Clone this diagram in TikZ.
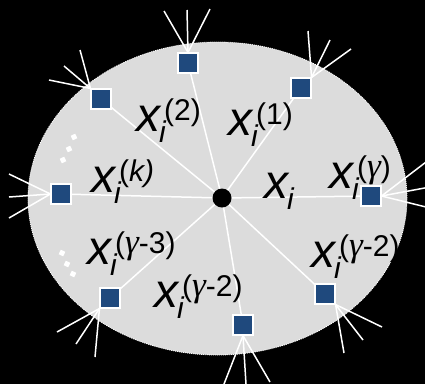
\documentclass[tikz,border=0pt]{standalone}
\usepackage{fontspec}
\setmainfont{Liberation Sans}
\newfontfamily\gfont{Liberation Serif}
\usetikzlibrary{backgrounds}
\definecolor{sqblue}{HTML}{1F497D}
\definecolor{ellgray}{HTML}{DCDCDC}
\newcommand{\labsize}{\fontsize{48}{48}\selectfont}
\newcommand{\supsize}{\fontsize{30}{30}\selectfont}
\newcommand{\mylab}[1]{\labsize\itshape x\rlap{\kern-1pt\raisebox{-11pt}{\supsize\itshape i}}\kern4pt\raisebox{11pt}{\supsize\upshape (#1)}}
\newcommand{\gam}{{\gfont\itshape\fontsize{35}{35}\selectfont γ}}
\begin{document}
\begin{tikzpicture}[x=1pt,y=-1pt,
  sq/.style={draw=white,line width=1.6pt,fill=sqblue,minimum size=19.5pt,inner sep=0pt},
  spoke/.style={white,line width=1.5pt},
  fan/.style={white,line width=1.5pt},
  dotsq/.style={fill=white,minimum size=5pt,inner sep=0pt},
  lab/.style={anchor=base west,inner sep=0pt,text=black}]
\useasboundingbox (0,0) rectangle (425,384);
% centre
\node[circle,fill=black,minimum size=19pt,inner sep=0pt] (c) at (222,198) {};
% squares
\node[sq] (s1) at (301,88) {};
\node[sq] (s2) at (188,63) {};
\node[sq] (s3) at (101,99) {};
\node[sq] (sk) at (61,194) {};
\node[sq] (sg3) at (110,298) {};
\node[sq] (sg2a) at (243,325) {};
\node[sq] (sg2b) at (325,294) {};
\node[sq] (sg) at (371,196) {};
% fan ends
\coordinate (a1) at (164,11); \coordinate (a2) at (187,10); \coordinate (a3) at (210,9);
\coordinate (b1) at (308,31); \coordinate (b2) at (330,40); \coordinate (b3) at (351,49);
\coordinate (e1) at (80,50); \coordinate (e2) at (64,66); \coordinate (e3) at (49,80);
\coordinate (f1) at (9,174); \coordinate (f2) at (9,197); \coordinate (f3) at (9,218);
\coordinate (g1) at (430,159); \coordinate (g2) at (430,187); \coordinate (g3) at (430,208);
\coordinate (h1) at (57,332); \coordinate (h2) at (76,344); \coordinate (h3) at (95,357);
\coordinate (m1) at (224,384); \coordinate (m2) at (246,384); \coordinate (m3) at (270,382);
\coordinate (n1) at (382,327); \coordinate (n2) at (363,340); \coordinate (n3) at (344,353);
\begin{scope}[on background layer]
\fill[black] (0,0) rectangle (425,384);
\clip (0,0) rectangle (425,384);
\fill[ellgray] (217.5,198.5) ellipse [x radius=189.5, y radius=156.5];
\draw[white,line width=0.8pt,dash pattern=on 1pt off 1pt] (217.5,198.5) ellipse [x radius=189.5, y radius=156.5];
\foreach \s in {s1,s2,s3,sk,sg3,sg2a,sg2b,sg} \draw[spoke] (c.center) -- (\s.center);
\foreach \p in {a1,a2,a3} \draw[fan] (s2.north) -- (\p);
\foreach \p in {b1,b2,b3} \draw[fan] (s1.north east) -- (\p);
\foreach \p in {e1,e2,e3} \draw[fan] (s3.north west) -- (\p);
\foreach \p in {f1,f2,f3} \draw[fan] (sk.west) -- (\p);
\foreach \p in {g1,g2,g3} \draw[fan] (sg.east) -- (\p);
\foreach \p in {h1,h2,h3} \draw[fan] (sg3.south west) -- (\p);
\foreach \p in {m1,m2,m3} \draw[fan] (sg2a.south) -- (\p);
\foreach \p in {n1,n2,n3} \draw[fan] (sg2b.south east) -- (\p);
\end{scope}
% dots
\node[dotsq,rotate=25] (d1) at (74,137) {};
\node[dotsq,rotate=25] (d2) at (69,149) {};
\node[dotsq,rotate=25] (d3) at (63,160) {};
\node[dotsq,rotate=-25] (d4) at (62,253) {};
\node[dotsq,rotate=-25] (d5) at (67,264) {};
\node[dotsq,rotate=-25] (d6) at (73,274) {};
% labels
\node[lab] (l2) at (136,131) {\mylab{2}};
\node[lab] (l1) at (228,135) {\mylab{1}};
\node[lab] (lk) at (91,192) {\mylab{\itshape k}};
\node[lab] (lc) at (264,198) {\labsize\itshape x\kern-1pt\raisebox{-11pt}{\supsize\itshape i}};
\node[lab] (lg) at (329,188) {\mylab{\gam}};
\node[lab] (lg3) at (87,264) {\mylab{\gam-3}};
\node[lab] (lg2a) at (154,307) {\mylab{\gam-2}};
\node[lab] (lg2b) at (311,267) {\mylab{\gam-2}};
\end{tikzpicture}
\end{document}
